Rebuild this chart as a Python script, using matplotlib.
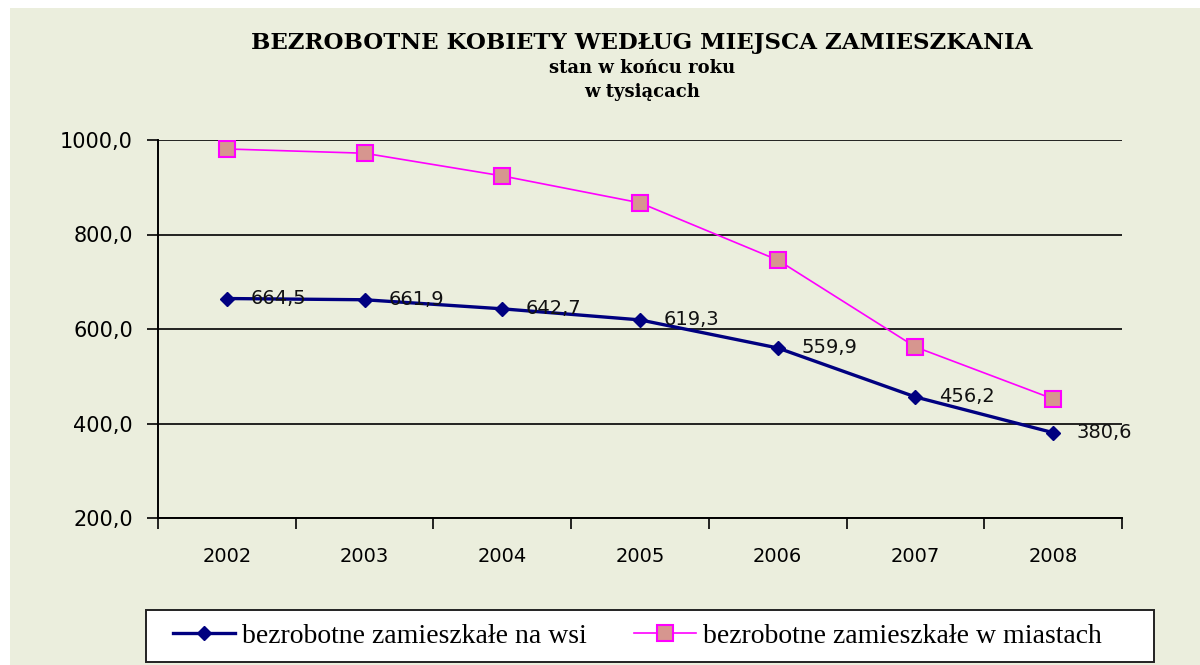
import numpy as np
import matplotlib.pyplot as plt
from matplotlib.patches import Rectangle

years = ['2002', '2003', '2004', '2005', '2006', '2007', '2008']
wies = [664.5, 661.9, 642.7, 619.3, 559.9, 456.2, 380.6]
miasta = [981.0, 972.0, 924.0, 867.0, 746.0, 562.0, 452.0]
labels_wies = ['664,5', '661,9', '642,7', '619,3', '559,9', '456,2', '380,6']
y_ticks = [200, 400, 600, 800, 1000]
y_tick_labels = ['200,0', '400,0', '600,0', '800,0', '1000,0']

bg = '#ebeedd'

fig = plt.figure(figsize=(12, 6.65), dpi=100)
fig.patch.set_facecolor('white')
# chart area background (leaves a thin white margin on left and top)
fig.patches.append(Rectangle((10 / 1200, 0), 1, 1 - 8 / 665,
                             transform=fig.transFigure, facecolor=bg,
                             edgecolor='none', zorder=-10))
# legend box
fig.patches.append(Rectangle((146 / 1200, 1 - 662 / 665), 1008 / 1200, 52 / 665,
                             transform=fig.transFigure, facecolor='white',
                             edgecolor='#222222', lw=1.4, zorder=1))

ax = fig.add_axes([158 / 1200, 1 - 518 / 665, 964 / 1200, 378 / 665])
ax.set_facecolor(bg)

x = np.arange(len(years))
ax.plot(x, miasta, color='#ff00ff', lw=1.2, marker='s', ms=11,
        markerfacecolor='#d6968f', markeredgecolor='#ff00ff', markeredgewidth=1.5,
        label='bezrobotne zamieszkałe w miastach', zorder=3)
ax.plot(x, wies, color='#000080', lw=2.4, marker='D', ms=7,
        markerfacecolor='#000080', markeredgecolor='#000080',
        label='bezrobotne zamieszkałe na wsi', zorder=4)

for xi, yi, lab in zip(x, wies, labels_wies):
    ax.annotate(lab, (xi, yi), xytext=(17, 0), textcoords='offset points',
                ha='left', va='center', fontsize=14, color='#111111',
                family='DejaVu Sans', zorder=5)

ax.set_xlim(-0.5, len(years) - 0.5)
ax.set_ylim(200, 1000)
ax.set_yticks(y_ticks)
ax.set_yticklabels(y_tick_labels)
ax.yaxis.grid(True, color='black', lw=1.2)
ax.set_axisbelow(True)

ax.set_xticks(np.arange(len(years) + 1) - 0.5)
ax.set_xticklabels([])
ax.set_xticks(x, minor=True)
ax.set_xticklabels(years, minor=True)
ax.tick_params(axis='x', which='major', direction='out', length=8, width=1.2)
ax.tick_params(axis='x', which='minor', length=0, pad=21, labelsize=14)
ax.tick_params(axis='y', direction='out', length=8, width=1.2, pad=10, labelsize=15)

for side in ['top', 'right']:
    ax.spines[side].set_visible(False)
for side in ['left', 'bottom']:
    ax.spines[side].set_linewidth(1.4)
    ax.spines[side].set_color('black')

fig.text(0.535, 1 - 43 / 665, 'BEZROBOTNE KOBIETY WEDŁUG MIEJSCA ZAMIESZKANIA',
         ha='center', va='center', fontsize=16.5, fontweight='bold',
         family='DejaVu Serif')
fig.text(0.535, 1 - 68 / 665, 'stan w końcu roku', ha='center', va='center',
         fontsize=13, fontweight='bold', family='DejaVu Serif')
fig.text(0.535, 1 - 92 / 665, 'w tysiącach', ha='center', va='center',
         fontsize=13, fontweight='bold', family='DejaVu Serif')

handles, labels = ax.get_legend_handles_labels()
leg = fig.legend(handles[::-1], labels[::-1], loc='center left',
                 bbox_to_anchor=(173 / 1200, 1 - 636 / 665), ncol=2,
                 frameon=False,
                 prop={'family': 'Liberation Serif', 'size': 20},
                 handlelength=2.23, handletextpad=0.25, columnspacing=1.7,
                 borderpad=0, borderaxespad=0)
leg.set_zorder(2)

fig.savefig('out.png', dpi=100, facecolor=fig.get_facecolor())
